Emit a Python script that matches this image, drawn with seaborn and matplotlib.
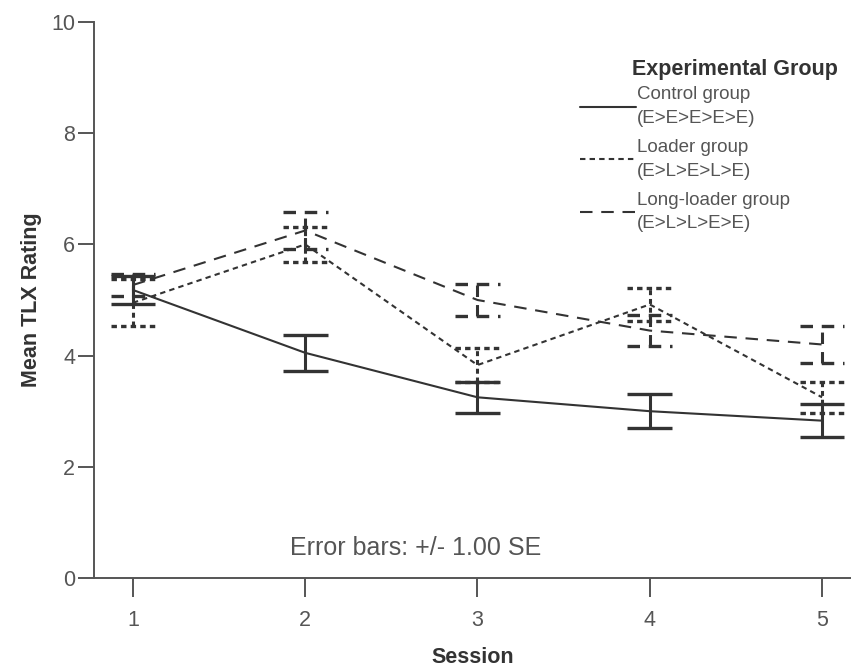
import numpy as np
import pandas as pd
import matplotlib
matplotlib.use("Agg")
import matplotlib.pyplot as plt
import seaborn as sns
from matplotlib.lines import Line2D

# ---- data ----
sessions = [1, 2, 3, 4, 5]
groups = ["Control group\n(E>E>E>E>E)", "Loader group\n(E>L>E>L>E)", "Long-loader group\n(E>L>L>E>E)"]
control_mean = [5.18, 4.05, 3.25, 3.00, 2.83]
control_se = [0.26, 0.32, 0.28, 0.31, 0.30]
loader_mean = [4.95, 6.00, 3.83, 4.92, 3.25]
loader_se = [0.42, 0.31, 0.30, 0.30, 0.28]
longloader_mean = [5.27, 6.25, 5.00, 4.45, 4.20]
longloader_se = [0.20, 0.33, 0.29, 0.28, 0.34]
y_ticks = [0, 2, 4, 6, 8, 10]
legend_title = "Experimental Group"
note_text = "Error bars: +/- 1.00 SE"

means = [control_mean, loader_mean, longloader_mean]
ses = [control_se, loader_se, longloader_se]

df = pd.DataFrame({
    "Session": np.tile(sessions, 3),
    "Mean": np.concatenate(means),
    "SE": np.concatenate(ses),
    "Group": np.repeat(groups, len(sessions)),
})

# ---- style ----
sns.set_style("ticks")
plt.rcParams["font.family"] = ["Liberation Sans", "DejaVu Sans"]
ink = "#333333"
gray_txt = "#555555"
dash_map = {groups[0]: "", groups[1]: (2.6, 2.0), groups[2]: (6.0, 4.2)}
lw = 1.5

fig = plt.figure(figsize=(8.51, 6.70), dpi=100)
ax = fig.add_axes([94 / 851, 92 / 670, 757 / 851, 556 / 670])

sns.lineplot(data=df, x="Session", y="Mean", style="Group", dashes=dash_map,
             color=ink, linewidth=lw, errorbar=None, legend=False, ax=ax,
             style_order=groups)

cap_half = 0.13
for g in groups:
    sub = df[df["Group"] == g]
    d = dash_map[g]
    ls = "solid" if d == "" else (0, tuple(v * lw / 2.4 for v in d))
    x = sub["Session"].to_numpy()
    m = sub["Mean"].to_numpy()
    s = sub["SE"].to_numpy()
    ax.vlines(x, m - s, m + s, colors=ink, linewidth=2.2, linestyles=[ls])
    ax.hlines(np.concatenate([m - s, m + s]), np.concatenate([x, x]) - cap_half,
              np.concatenate([x, x]) + cap_half, colors=ink, linewidth=2.4,
              linestyles=[ls])

ax.set_xlim(0.774, 5.168)
ax.set_ylim(0, 10)
ax.set_xticks(sessions)
ax.set_yticks(y_ticks)
ax.tick_params(axis="both", colors=gray_txt, labelsize=15.5, width=1.4)
ax.tick_params(axis="y", length=11.5, pad=2)
ax.tick_params(axis="x", length=13.5, pad=9.5)
for sp in ["top", "right"]:
    ax.spines[sp].set_visible(False)
for sp in ["left", "bottom"]:
    ax.spines[sp].set_color(gray_txt)
    ax.spines[sp].set_linewidth(1.4)

ax.set_xlabel("Session", fontsize=15.5, fontweight="bold", color=ink, labelpad=11.5)
ax.set_ylabel("Mean TLX Rating", fontsize=15.5, fontweight="bold", color=ink, labelpad=7)

ax.text(0.425, 0.054, note_text, transform=ax.transAxes, ha="center", va="center",
        fontsize=18, color=gray_txt)

handles = [Line2D([0], [0], color=ink, linewidth=lw,
                  linestyle="solid" if dash_map[g] == "" else (0, dash_map[g]))
           for g in groups]
leg = ax.legend(handles, groups, loc="upper left", bbox_to_anchor=(0.642, 0.884),
                frameon=False, fontsize=13.5, handlelength=3.0, handletextpad=0.05,
                labelspacing=0.65, borderpad=0, borderaxespad=0, labelcolor=gray_txt)
for t in leg.get_texts():
    t.set_linespacing(1.5)
ax.text(0.711, 0.914, legend_title, transform=ax.transAxes, ha="left", va="center",
        fontsize=15.5, fontweight="bold", color=ink)

fig.savefig("out.png", dpi=100)
